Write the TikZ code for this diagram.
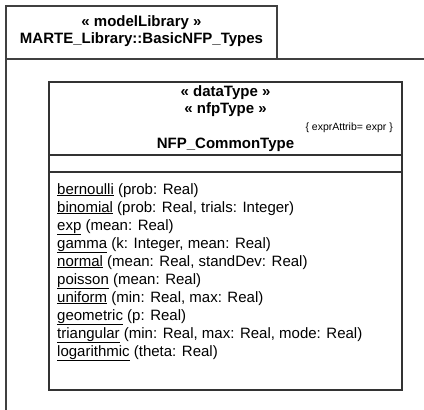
\documentclass[tikz,border=0pt]{standalone}
\usepackage{fontspec}
\setmainfont{Liberation Sans}
\usepackage{xcolor}
\usetikzlibrary{positioning}

\newcommand{\opname}[1]{\underline{#1}}

\begin{document}
\begin{tikzpicture}[
    x=1pt, y=-1pt,
    font=\fontsize{15}{18}\selectfont,
    node distance = 0pt,
    pkgline/.style = {draw=black!75, line width=1.1pt},
    umlbox/.style = {draw=black!80, line width=1.3pt, inner sep=0pt, outer sep=0pt, minimum width=353pt},
    title/.style = {inner sep=0pt, align=center, font=\fontsize{15}{17.5}\selectfont\bfseries},
    note/.style = {inner sep=0pt, font=\fontsize{10.5}{12}\selectfont},
    optext/.style = {inner sep=0pt, align=left, font=\fontsize{15}{18}\selectfont}
]
    \useasboundingbox (0,0) rectangle (424,410);

    % package
    \node[pkgline, inner sep=0pt, outer sep=0pt, minimum width=271pt, minimum height=53pt, anchor=north west] (tab) at (6,6) {};
    \node[title] (pkgname) at ([yshift=1.5pt]tab.center) {« modelLibrary »\\MARTE\_Library::BasicNFP\_Types};
    \coordinate (bodyright) at (424,59);
    \coordinate (bodybottom) at (6,410);
    \draw[pkgline] (bodybottom) -- (tab.south west) -- (bodyright);

    % class with three compartments
    \node[umlbox, minimum height=73pt, anchor=north west] (head) at (49,82) {};
    \node[umlbox, minimum height=17pt, below=of head] (attr) {};
    \node[umlbox, minimum height=218pt, below=of attr] (ops) {};

    \node[title, below=3pt of head.north] (stereo) {« dataType »\\« nfpType »};
    \node[note, below left=41pt and 9pt of head.north east] (expr) {\{ exprAttrib= expr \}};
    \node[title, above=3.5pt of head.south] (clsname) {NFP\_CommonType};

    \node[optext, below right=11pt and 8pt of ops.north west] (oplist) {%
        \opname{bernoulli} (prob: Real)\\
        \opname{binomial} (prob: Real, trials: Integer)\\
        \opname{exp} (mean: Real)\\
        \opname{gamma} (k: Integer, mean: Real)\\
        \opname{normal} (mean: Real, standDev: Real)\\
        \opname{poisson} (mean: Real)\\
        \opname{uniform} (min: Real, max: Real)\\
        \opname{geometric} (p: Real)\\
        \opname{triangular} (min: Real, max: Real, mode: Real)\\
        \opname{logarithmic} (theta: Real)};
\end{tikzpicture}
\end{document}
